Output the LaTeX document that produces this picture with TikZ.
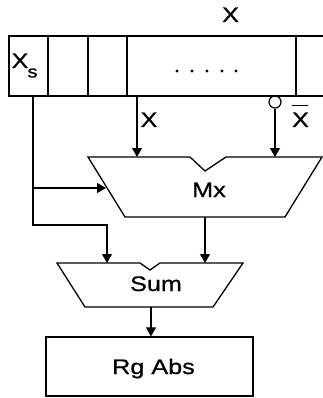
\documentclass[tikz,border=0pt]{standalone}
\usepackage{fontspec}
\setmainfont{Liberation Sans}[FakeStretch=1.2,FakeBold=0.8]
\usetikzlibrary{arrows.meta}
\begin{document}
\begin{tikzpicture}[x=1pt,y=-1pt,
  wire/.style={line width=1.2pt},
  arr/.style={wire,-{Triangle[width=10pt,length=9pt]}},
  lbl/.style={font=\fontsize{21}{24}\selectfont, inner sep=0pt, anchor=base},
  blk/.style={line width=1.3pt, line join=miter}]
\useasboundingbox (0,0) rectangle (323,398);
% register
\draw[blk] (323,36) -- (9,36) -- (9,96) -- (323,96);
\draw[blk] (88,36) -- (88,96) (127,36) -- (127,96) (296,36) -- (296,96);
\draw[line width=2.6pt] (48,36) -- (48,96);
\node[lbl] (xtop) at (230.5,22) {X};
\node[lbl] (xs) at (20,68) {X};
\node[lbl,font=\fontsize{17}{18}\selectfont] (xss) at (32.5,77.5) {s};
\foreach \i/\xx in {1/177,2/192,3/207,4/222,5/236}
  \fill (\xx,71) circle (1.6pt);
\coordinate (rs) at (33,96);
\coordinate (rx) at (137,96);
\node[draw, circle, line width=1.2pt, minimum size=12pt, inner sep=0pt] (inv) at (275,102) {};
% Mx
\draw[blk] (88,157) -- (190,157) -- (205,171) -- (226,157) -- (322,157)
  -- (285,217) -- (125,217) -- cycle;
\coordinate (mxa) at (137,157);
\coordinate (mxb) at (275,157);
\coordinate (mxl) at (106,188);
\coordinate (mxo) at (205,217);
\node[lbl] (mx) at (209,197) {Mx};
% Sum
\draw[blk] (57,263) -- (140,263) -- (150,270) -- (160,263) -- (243,263)
  -- (213,307) -- (85,307) -- cycle;
\coordinate (sa) at (107,263);
\coordinate (sb) at (205,263);
\coordinate (so) at (151,307);
\node[lbl] (sum) at (156,291) {Sum};
% Rg Abs
\node[draw, blk, minimum width=207pt, minimum height=59pt, inner sep=0pt] (rg) at (149.5,366.5) {};
\node[lbl] (rgl) at (153.5,374) {Rg Abs};
% labels
\node[lbl] (xl) at (149,127) {X};
\node[lbl] (xb) at (300.5,127) {\makebox[0pt][l]{\raisebox{21pt}{\rule{16pt}{1.2pt}}}X};
% connectors
\coordinate (bend) at (33,225);
\coordinate (br) at (33,188);
\draw[arr] (rx) -- (mxa);
\draw[arr] (inv) -- (mxb);
\draw[arr] (rs) -- (bend) -| (sa);
\draw[arr] (br) -- (mxl);
\draw[arr] (mxo) -- (sb);
\draw[arr] (so) -- (so |- rg.north);
\end{tikzpicture}
\end{document}
